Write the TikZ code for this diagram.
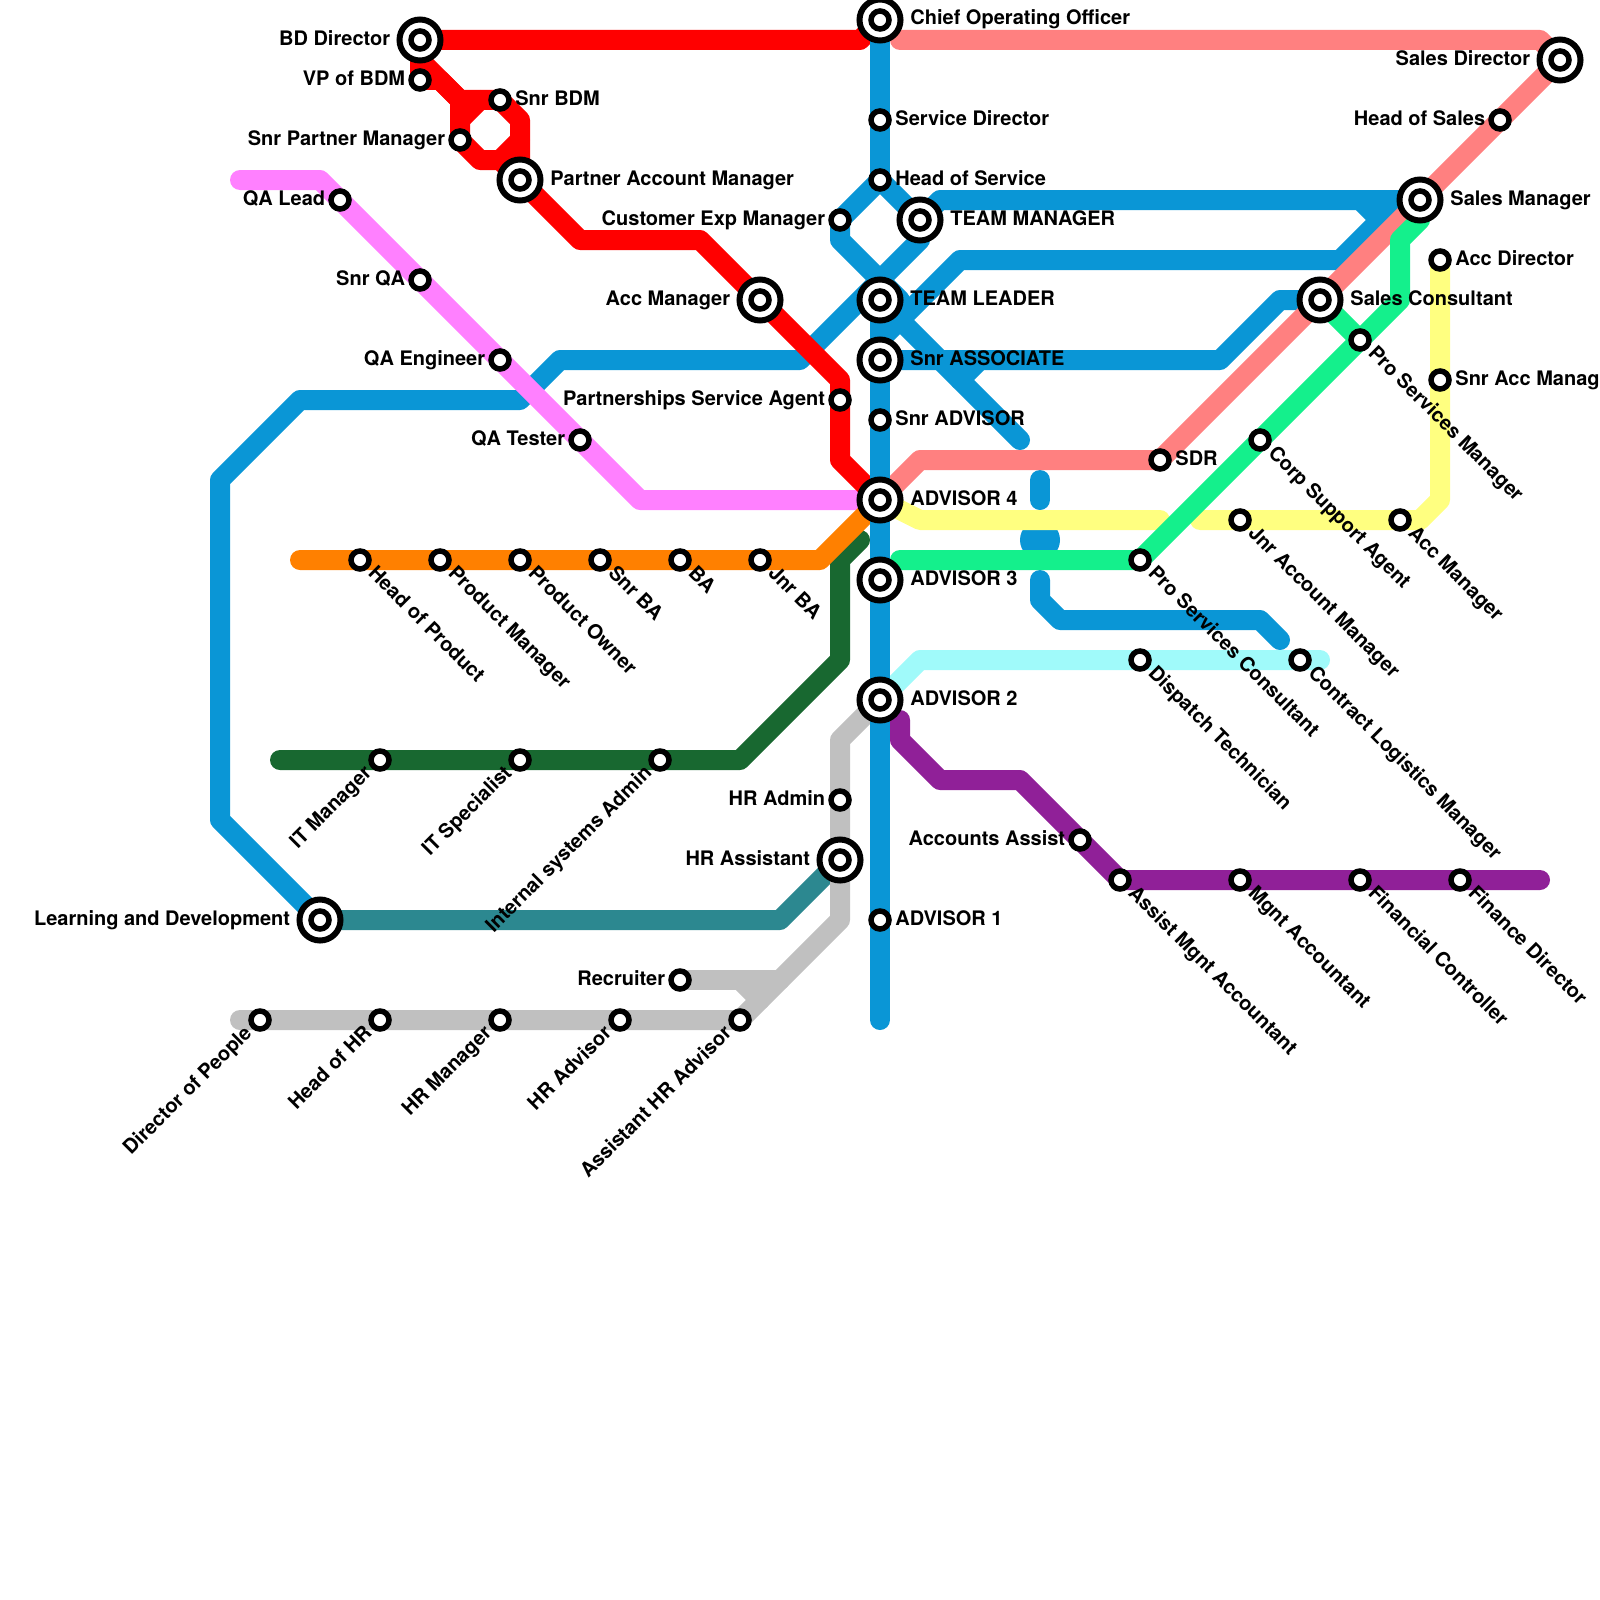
\documentclass[tikz,border=0pt]{standalone}
\usepackage{fontspec}
\setmainfont{TeX Gyre Heros}
\usetikzlibrary{calc,backgrounds}
\definecolor{lblue}{HTML}{0A96D6}
\definecolor{lsalmon}{HTML}{FF8080}
\definecolor{lmagenta}{HTML}{FF80FF}
\definecolor{lred}{HTML}{FF0000}
\definecolor{lorange}{HTML}{FF8000}
\definecolor{ldgreen}{HTML}{186830}
\definecolor{lteal}{HTML}{2C8890}
\definecolor{lgrey}{HTML}{C0C0C0}
\definecolor{lyellow}{HTML}{FFFF80}
\definecolor{lgreen}{HTML}{14F08C}
\definecolor{lcyan}{HTML}{A0FAFA}
\definecolor{lpurple}{HTML}{902098}
\tikzset{
  route/.style={line width=10pt,line cap=round,line join=round,draw=#1},
  stsmall/.style={circle,draw=black,fill=white,line width=2.75pt,minimum size=9pt,inner sep=0pt,outer sep=0pt},
  stbig/.style={circle,draw=black,fill=white,line width=3pt,minimum size=20.5pt,inner sep=0pt,outer sep=0pt},
  lab/.style={font=\bfseries\fontsize{10}{12}\selectfont,inner sep=0pt,text=black},
}
% small station with label: right, left, rotated down-right, rotated up-left
\newcommand{\stR}[4]{\node[stsmall] (#1) at (#2,#3) {};\node[lab,anchor=base west] (#1-l) at ($(#1)+(15,5.5)$) {#4};}
\newcommand{\stL}[4]{\node[stsmall] (#1) at (#2,#3) {};\node[lab,anchor=base east] (#1-l) at ($(#1)+(-14.5,5.5)$) {#4};}
\newcommand{\stD}[4]{\node[stsmall] (#1) at (#2,#3) {};\node[lab,anchor=base west,rotate=-45] (#1-l) at ($(#1)+(7,14)$) {#4};}
\newcommand{\stU}[4]{\node[stsmall] (#1) at (#2,#3) {};\node[lab,anchor=base east,rotate=45] (#1-l) at ($(#1)+(-7,14)$) {#4};}
% big station with label
\newcommand{\bgR}[4]{\node[stbig] (#1-o) at (#2,#3) {};\node[stsmall] (#1) at (#2,#3) {};\node[lab,anchor=base west] (#1-l) at ($(#1)+(30,5)$) {#4};}
\newcommand{\bgL}[4]{\node[stbig] (#1-o) at (#2,#3) {};\node[stsmall] (#1) at (#2,#3) {};\node[lab,anchor=base east] (#1-l) at ($(#1)+(-29.5,5.5)$) {#4};}
\begin{document}
\begin{tikzpicture}[x=0.5pt,y=-0.5pt]
\useasboundingbox (0,0) rectangle (1600,1600);
% --- stations: main vertical
\bgR{coo}{880}{20}{Chief Operating Officer}
\stR{svcd}{880}{120}{Service Director}
\stR{hos}{880}{180}{Head of Service}
\bgR{tl}{880}{300}{TEAM LEADER}
\bgR{sa}{880}{360}{Snr ASSOCIATE}
\stR{sadv}{880}{420}{Snr ADVISOR}
\bgR{adv4}{880}{500}{ADVISOR 4}
\bgR{adv3}{880}{580}{ADVISOR 3}
\bgR{adv2}{880}{700}{ADVISOR 2}
\stR{adv1}{880}{920}{ADVISOR 1}
\bgR{tm}{920}{220}{TEAM MANAGER}
\stL{cem}{840}{220}{Customer Exp Manager}
% red
\bgL{bd}{420}{40}{BD Director}
\stL{vp}{420}{80}{VP of BDM}
\stR{sbdm}{500}{100}{Snr BDM}
\stL{spm}{460}{140}{Snr Partner Manager}
\bgR{pam}{520}{180}{Partner Account Manager}
\bgL{acm}{760}{300}{Acc Manager}
\stL{psa}{840}{400}{Partnerships Service Agent}
% magenta
\stL{qal}{340}{200}{QA Lead}
\stL{sqa}{420}{280}{Snr QA}
\stL{qae}{500}{360}{QA Engineer}
\stL{qat}{580}{440}{QA Tester}
% orange
\stD{hop}{360}{560}{Head of Product}
\stD{pm}{440}{560}{Product Manager}
\stD{po}{520}{560}{Product Owner}
\stD{sba}{600}{560}{Snr BA}
\stD{ba}{680}{560}{BA}
\stD{jba}{760}{560}{Jnr BA}
% dark green
\stU{itm}{380}{760}{IT Manager}
\stU{its}{520}{760}{IT Specialist}
\stU{isa}{660}{760}{Internal systems Admin}
% teal, grey
\bgL{ld}{320}{920}{Learning and Development}
\bgL{hra}{840}{860}{HR Assistant}
\stL{hrad}{840}{800}{HR Admin}
\stL{rec}{680}{980}{Recruiter}
\stU{dop}{260}{1020}{Director of People}
\stU{hhr}{380}{1020}{Head of HR}
\stU{hrm}{500}{1020}{HR Manager}
\stU{hadv}{620}{1020}{HR Advisor}
\stU{ahr}{740}{1020}{Assistant HR Advisor}
% salmon
\bgL{sd}{1560}{60}{Sales Director}
\stL{hsal}{1500}{120}{Head of Sales}
\bgR{sm}{1420}{200}{Sales Manager}
\bgR{sc}{1320}{300}{Sales Consultant}
\stR{sdr}{1160}{460}{SDR}
% green
\stD{psm}{1360}{340}{Pro Services Manager}
\stD{csa}{1260}{440}{Corp Support Agent}
\stD{psc}{1140}{560}{Pro Services Consultant}
% yellow
\stR{acd}{1440}{260}{Acc Director}
\stR{sam}{1440}{380}{Snr Acc Manager}
\stD{acm2}{1400}{520}{Acc Manager}
\stD{jam}{1240}{520}{Jnr Account Manager}
% cyan
\stD{dt}{1140}{660}{Dispatch Technician}
\stD{clm}{1300}{660}{Contract Logistics Manager}
% purple
\stL{aca}{1080}{840}{Accounts Assist}
\stD{ama}{1120}{880}{Assist Mgnt Accountant}
\stD{mga}{1240}{880}{Mgnt Accountant}
\stD{fc}{1360}{880}{Financial Controller}
\stD{fd}{1460}{880}{Finance Director}

\begin{pgfonlayer}{background}
% blue branches
\draw[route=lblue] (hos.center) -- (cem.center) -- (840,240) -- (900,300);
\draw[route=lblue] (hos.center) -- (tm.center) -- (940,200) -- (sm.center);
\draw[route=lblue] (tm.center) -- (920,240) -- (800,360) -- (560,360) -- (520,400) -- (300,400) -- (220,480) -- (220,820) -- (ld.center);
\draw[route=lblue] (1360,200) -- (1380,220) -- (1340,260) -- (960,260) -- (880,340) -- (sa.center);
\draw[route=lblue] (1400,200) -- (1380,220);
\draw[route=lblue] (sa.center) -- (1220,360) -- (1280,300) -- (sc.center);
\draw[route=lblue] (tl.center) -- (960,380) -- (1020,440);
\draw[route=lblue] (960,380) -- (980,360);
\draw[route=lblue] (1040,480) -- (1040,500);
\fill[lblue] (1040,540) circle (10pt);
\draw[route=lblue] (1040,580) -- (1040,600) -- (1060,620) -- (1260,620) -- (1280,640);
% other routes
\draw[route=lsalmon] (900,40) -- (1540,40) -- (sd.center) -- (sdr.center) -- (920,460) -- (adv4.center);
\draw[route=lmagenta] (240,180) -- (320,180) -- (640,500) -- (adv4.center);
\draw[route=ldgreen] (280,760) -- (740,760) -- (840,660) -- (840,560) -- (860,540);
\draw[route=lorange] (300,560) -- (820,560) -- (adv4.center);
\draw[route=lred] (bd.center) -- (860,40) -- (coo.center);
\draw[route=lred] (bd.center) -- (vp.center) -- (440,80) -- (460,100) -- (sbdm.center) -- (520,120) -- (pam.center) -- (580,240) -- (700,240) -- (acm.center) -- (840,380) -- (840,460) -- (adv4.center);
\draw[route=lred] (420,60) -- (460,100) -- (spm.center) -- (480,160) -- (500,160) -- (pam.center);
\draw[route=lred] (460,120) -- (480,100);
\draw[route=lred] (520,140) -- (500,160);
\draw[route=lteal] (ld.center) -- (780,920) -- (hra.center);
\draw[route=lgrey] (240,1020) -- (ahr.center) -- (840,920) -- (840,740) -- (adv2.center);
\draw[route=lgrey] (rec.center) -- (780,980);
\draw[route=lgrey] (740,980) -- (760,1000);
\draw[route=lyellow] (adv4.center) -- (920,520) -- (1160,520);
\draw[route=lyellow] (1200,520) -- (1420,520) -- (1440,500) -- (acd.center);
\draw[route=lgreen] (900,560) -- (psc.center) -- (1400,300) -- (1400,240) -- (1420,220) -- (sm.center);
\draw[route=lgreen] (sc.center) -- (psm.center);
\draw[route=lcyan] (adv2.center) -- (920,660) -- (1320,660);
\draw[route=lpurple] (900,720) -- (900,740) -- (940,780) -- (1020,780) -- (ama.center) -- (1540,880);
% main vertical on top, broken across the diamond below Head of Service
\draw[route=lblue] (coo.center) -- (hos.center);
\draw[route=lblue] (tl.center) -- (880,1020);
\end{pgfonlayer}
\end{tikzpicture}
\end{document}
